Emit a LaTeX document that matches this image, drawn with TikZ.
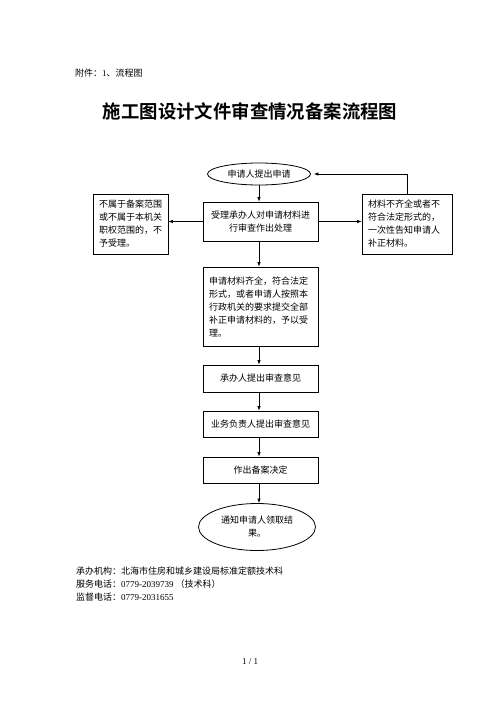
\documentclass[tikz,border=0pt]{standalone}
\usepackage{fontspec}
\setmainfont{Noto Sans CJK SC}
\newfontfamily\lat{Liberation Serif}
\newfontfamily\titlefont{Noto Sans CJK SC Bold}
\usetikzlibrary{shapes.geometric,arrows.meta}
\begin{document}
\begin{tikzpicture}[x=1pt,y=-1pt,
  txt/.style={font=\fontsize{9}{13}\selectfont},
  box/.style={draw, line width=0.8pt, txt, inner sep=0pt},
  lbox/.style={box, align=left, inner xsep=6pt},
  oval/.style={draw, ellipse, line width=0.8pt, txt, inner sep=0pt, align=center},
  arr/.style={-{Latex[length=4.5pt,width=3.5pt]}, line width=0.7pt},
  plain/.style={anchor=west, inner sep=0pt, font=\fontsize{9}{13}\selectfont}]
\useasboundingbox (0,0) rectangle (500,708);
\fill[white] (0,0) rectangle (500,708);

\node[plain] (head) at (75,73) {附件：{\lat 1}、流程图};
\node[inner sep=0pt, font=\titlefont\fontsize{18.4}{20}\selectfont] (title) at (250,111) {施工图设计文件审查情况备案流程图};

\node[oval, minimum width=103pt, minimum height=22pt] (e1) at (259,174) {申请人提出申请};
\node[box, align=center, minimum width=115pt, minimum height=39pt] (b2) at (260.5,221.5) {受理承办人对申请材料进\\行审查作出处理};
\node[lbox, text width=63pt, minimum height=60pt] (lb) at (130.5,224) {不属于备案范围\\或不属于本机关\\职权范围的，不\\予受理。};
\node[lbox, text width=78pt, minimum height=60pt] (rb) at (407,224) {材料不齐全或者不\\符合法定形式的，\\一次性告知申请人\\补正材料。};
\node[lbox, text width=103pt, minimum height=79pt] (b3) at (260.5,306.5) {申请材料齐全，符合法定\\形式，或者申请人按照本\\行政机关的要求提交全部\\补正申请材料的，予以受\\理。};
\node[box, minimum width=115pt, minimum height=27pt] (b4) at (260.5,378.5) {承办人提出审查意见};
\node[box, minimum width=115pt, minimum height=26pt] (b5) at (260.5,424) {业务负责人提出审查意见};
\node[box, minimum width=115pt, minimum height=26pt] (b6) at (260.5,470) {作出备案决定};
\node[oval, minimum width=117pt, minimum height=47pt] (e2) at (257,527) {通知申请人领取结\\果。};

\draw[arr] (e1.south) -- (e1.south |- b2.north);
\draw[arr] (b2.west) -- (b2.west -| lb.east);
\draw[arr] (b2.east) -- (b2.east -| rb.west);
\draw[arr, shorten >=3pt] (rb.north) |- (e1.east);
\draw[arr] (b2.south -| e1.south) -- (b3.north -| e1.south);
\draw[arr] (b3.south -| e1.south) -- (b4.north -| e1.south);
\draw[arr] (b4.south -| e1.south) -- (b5.north -| e1.south);
\draw[arr] (b5.south -| e1.south) -- (b6.north -| e1.south);
\draw[arr] (b6.south -| e1.south) -- (e1.south |- e2.north);

\node[plain] (f1) at (76,571) {承办机构：北海市住房和城乡建设局标准定额技术科};
\node[plain] (f2) at (76,584) {服务电话：{\lat 0779-2039739} （技术科）};
\node[plain] (f3) at (76,597) {监督电话：{\lat 0779-2031655}};
\node[inner sep=0pt, font=\lat\fontsize{9}{11}\selectfont] (pg) at (250,662) {1 / 1};
\end{tikzpicture}
\end{document}
